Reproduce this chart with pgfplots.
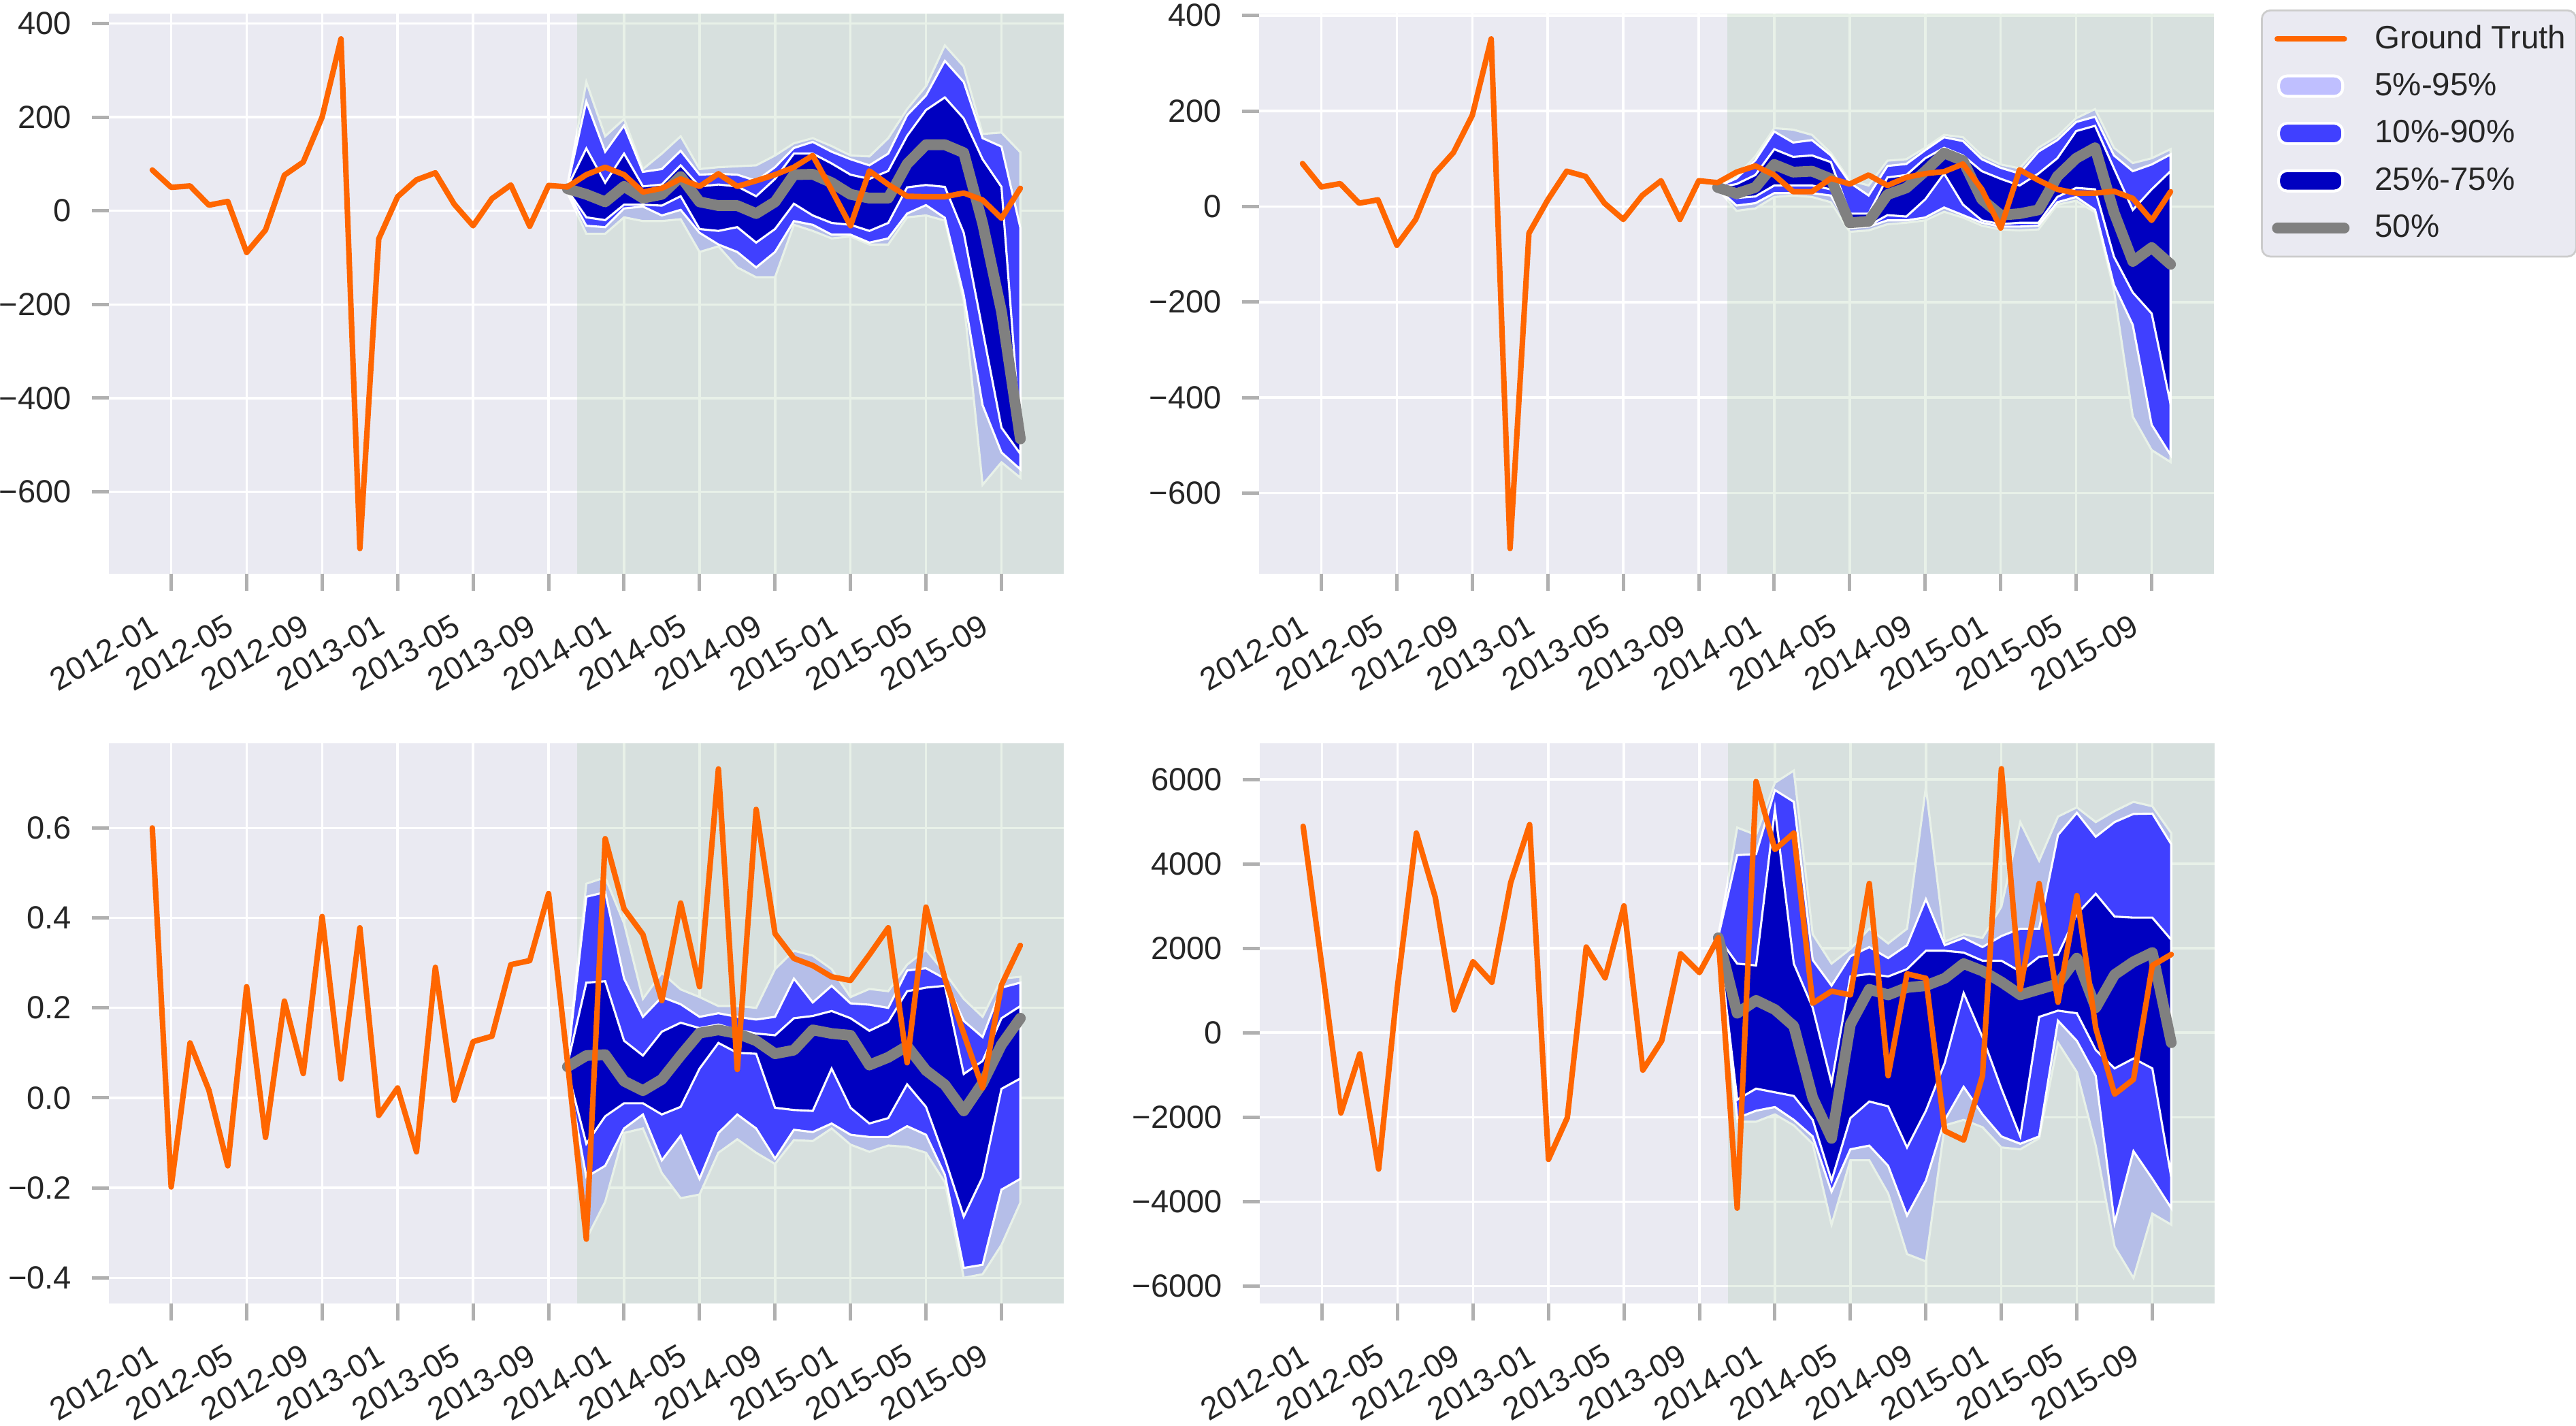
\documentclass[border=0pt]{standalone}
\usepackage{fontspec}
\setmainfont{Liberation Sans}
\usepackage{pgfplots}
\pgfplotsset{compat=1.18}
\usepackage{pgfplotstable}
\usepgfplotslibrary{fillbetween}
\tikzset{fill between/on layer=main}

\definecolor{bgc}{RGB}{234,234,242}
\definecolor{spanc}{RGB}{143,188,143}
\definecolor{q5c}{RGB}{191,191,255}
\definecolor{q10c}{RGB}{64,64,255}
\definecolor{q25c}{RGB}{0,0,192}
\definecolor{gtc}{RGB}{255,102,0}
\definecolor{medc}{RGB}{128,128,128}
\definecolor{tickc}{RGB}{176,176,176}
\definecolor{textc}{RGB}{38,38,38}
\definecolor{legedge}{RGB}{204,204,204}

\newlength{\px}\setlength{\px}{0.24pt}
\newcommand{\tfont}{\fontsize{11.3}{13.5}\selectfont}

% ---------------- data ----------------
\pgfplotstableread{
x p5 p10 p25 p50 p75 p90 p95
22 38 42 44 47 51 53 55
23 -49 -32 -14 35 133 233 275
24 -49 -35 -20 19 60 126 159
25 -14 5 13 52 122 182 196
26 -22 9 13 27 52 83 89
27 -22 -10 11 35 56 89 122
28 -18 2 31 73 97 128 159
29 -88 -47 -39 19 52 77 89
30 -76 -72 -43 11 56 79 93
31 -121 -88 -35 11 52 77 95
32 -142 -121 -68 -6 31 64 97
33 -142 -88 -39 19 68 93 118
34 -30 -22 15 77 122 134 144
35 -43 -30 -10 78 122 147 155
36 -59 -51 -26 60 101 126 138
37 -55 -51 -30 35 77 110 118
38 -72 -68 -43 27 68 97 116
39 -72 -59 -26 27 85 122 155
40 -14 -6 50 100 160 204 217
41 -10 12 55 141 215 246 266
42 -21 -15 51 141 242 320 353
43 -192 -180 -47 124 197 275 308
44 -585 -415 -255 -27 110 155 164
45 -537 -516 -463 -215 51 137 167
46 -570 -552 -519 -487 -478 -36 125
}\qA
\pgfplotstableread{
x y
0 87
1 50
2 53
3 12
4 20
5 -89
6 -41
7 76
8 104
9 200
10 367
11 -721
12 -60
13 30
14 66
15 81
16 14
17 -32
18 26
19 55
20 -33
21 54
22 51
23 77
24 93
25 77
26 40
27 48
28 68
29 52
30 79
31 52
32 64
33 77
34 93
35 118
36 44
37 -32
38 85
39 56
40 31
41 30
42 30
43 38
44 23
45 -16
46 48
}\gA

\pgfplotstableread{
x p5 p10 p25 p50 p75 p90 p95
22 37 38 39 40 40 41 42
23 -9 2 18 27 47 59 63
24 -4 7 21 40 66 97 105
25 20 28 44 88 120 157 164
26 23 28 44 72 104 134 161
27 20 28 44 74 107 139 150
28 9 23 36 58 93 107 112
29 -53 -45 -42 -34 -15 50 55
30 -50 -42 -40 -31 -15 23 44
31 -37 -29 -18 25 61 85 96
32 -34 -29 -21 39 66 89 99
33 -29 -23 15 74 101 118 123
34 -11 -2 69 112 123 145 150
35 -23 -18 4 96 107 137 145
36 -40 -34 -29 15 74 99 107
37 -48 -42 -37 -18 58 81 88
38 -50 -42 -34 -15 44 69 80
39 -48 -40 -34 -7 69 115 123
40 4 9 20 63 101 139 147
41 12 20 39 101 158 177 185
42 -12 -7 36 123 169 188 204
43 -175 -164 -105 -12 80 107 123
44 -440 -248 -180 -115 -7 74 91
45 -510 -457 -224 -86 36 88 101
46 -535 -520 -413 -121 74 109 120
}\qB
\pgfplotstableread{
x y
0 90
1 41
2 48
3 7
4 14
5 -81
6 -27
7 69
8 113
9 191
10 351
11 -716
12 -56
13 14
14 74
15 63
16 7
17 -27
18 23
19 54
20 -27
21 54
22 50
23 72
24 85
25 66
26 31
27 31
28 59
29 47
30 66
31 44
32 61
33 69
34 73
35 89
36 36
37 -45
38 77
39 55
40 36
41 28
42 28
43 32
44 17
45 -29
46 31
}\gB

\pgfplotstableread{
x p5 p10 p25 p50 p75 p90 p95
22 0.05 0.055 0.06 0.069 0.075 0.08 0.085
23 -0.314 -0.176 -0.102 0.094 0.256 0.447 0.476
24 -0.231 -0.151 -0.041 0.096 0.259 0.457 0.49
25 -0.078 -0.068 -0.012 0.037 0.127 0.265 0.388
26 -0.068 -0.037 -0.012 0.016 0.094 0.18 0.22
27 -0.167 -0.139 -0.037 0.041 0.147 0.224 0.278
28 -0.223 -0.084 -0.02 0.094 0.167 0.208 0.241
29 -0.215 -0.18 0.065 0.144 0.155 0.18 0.224
30 -0.122 -0.078 0.122 0.151 0.163 0.188 0.204
31 -0.092 -0.037 0.10 0.143 0.151 0.18 0.204
32 -0.122 -0.068 0.098 0.127 0.143 0.174 0.2
33 -0.147 -0.135 -0.022 0.098 0.139 0.18 0.286
34 -0.094 -0.071 -0.027 0.106 0.177 0.265 0.327
35 -0.096 -0.076 -0.029 0.151 0.182 0.212 0.316
36 -0.068 -0.057 0.065 0.143 0.193 0.249 0.286
37 -0.104 -0.082 -0.022 0.139 0.177 0.21 0.224
38 -0.12 -0.087 -0.057 0.073 0.149 0.207 0.242
39 -0.106 -0.087 -0.045 0.09 0.169 0.2 0.237
40 -0.109 -0.063 0.03 0.115 0.237 0.283 0.296
41 -0.122 -0.082 -0.02 0.061 0.245 0.288 0.329
42 -0.188 -0.171 -0.135 0.029 0.249 0.265 0.278
43 -0.4 -0.378 -0.264 -0.029 0.053 0.171 0.22
44 -0.392 -0.371 -0.176 0.033 0.082 0.135 0.18
45 -0.327 -0.204 0.02 0.118 0.177 0.245 0.265
46 -0.233 -0.18 0.043 0.177 0.204 0.256 0.269
}\qC
\pgfplotstableread{
x y
0 0.60
1 -0.198
2 0.122
3 0.017
4 -0.151
5 0.247
6 -0.088
7 0.215
8 0.054
9 0.403
10 0.042
11 0.378
12 -0.039
13 0.022
14 -0.12
15 0.29
16 -0.005
17 0.125
18 0.137
19 0.296
20 0.305
21 0.454
22 0.08
23 -0.314
24 0.576
25 0.42
26 0.363
27 0.216
28 0.433
29 0.247
30 0.731
31 0.063
32 0.641
33 0.365
34 0.31
35 0.294
36 0.269
37 0.261
38 0.318
39 0.378
40 0.078
41 0.424
42 0.265
43 0.143
44 0.022
45 0.251
46 0.339
}\gC

\pgfplotstableread{
x p5 p10 p25 p50 p75 p90 p95
22 2200 2220 2240 2250 2260 2280 2300
23 -2108 -2021 -1585 462 1637 4207 4860
24 -2108 -1847 -1324 767 1594 4233 4686
25 -1934 -1760 -1411 549 5296 5749 5923
26 -2195 -2064 -1498 157 1637 5470 6210
27 -2630 -2456 -2064 -1541 592 1725 2334
28 -4547 -3763 -3501 -2500 -1193 1115 1637
29 -3022 -2761 -2021 200 1333 1812 1986
30 -3022 -2674 -1629 1028 1394 2029 2465
31 -3806 -3153 -1742 897 1333 1768 2116
32 -5243 -4329 -2718 1071 1507 2073 2465
33 -5418 -3501 -1847 1115 1942 3162 5818
34 -2195 -2064 -714 1289 1942 2073 2160
35 -2064 -1280 941 1637 1899 2247 2334
36 -2238 -1934 -105 1463 1707 2029 2247
37 -2717 -2456 -1324 1202 1707 2290 2988
38 -2761 -2630 -2456 897 1450 2465 4990
39 -2500 -2456 375 1028 1800 2465 4076
40 -235 287 523 1158 1850 4686 5121
41 -932 -192 462 1768 2813 5209 5339
42 -2674 -1019 -409 592 3292 4642 4990
43 -5069 -4503 -845 1376 2752 4990 5252
44 -5810 -2805 -610 1681 2726 5183 5470
45 -4285 -3458 -845 1899 2726 5191 5365
46 -4547 -4155 -3414 -235 2203 4468 4729
}\qD
\pgfplotstableread{
x y
0 4890
1 1550
2 -1900
3 -500
4 -3230
5 1100
6 4730
7 3210
8 540
9 1685
10 1195
11 3560
12 4930
13 -3000
14 -2010
15 2030
16 1300
17 3005
18 -885
19 -190
20 1870
21 1425
22 2250
23 -4155
24 5950
25 4340
26 4730
27 697
28 984
29 897
30 3536
31 -1019
32 1394
33 1289
34 -2326
35 -2543
36 -1019
37 6254
38 1028
39 3536
40 723
41 3249
42 113
43 -1455
44 -1106
45 1594
46 1855
}\gD

% ---------------- styles ----------------
\pgfplotsset{
  panel/.style={
    width=1403\px, height=823\px, scale only axis,
    anchor=south west,
    xmin=-2.3, xmax=48.3,
    axis background/.style={fill=bgc},
    axis line style={draw=none},
    grid=major,
    major grid style={draw=white, line width=0.85pt},
    tick align=outside, tick pos=left,
    major tick length=25\px,
    tick style={draw=tickc, line width=1.2pt},
    xtick={1,5,9,13,17,21,25,29,33,37,41,45},
    xticklabels={2012-01,2012-05,2012-09,2013-01,2013-05,2013-09,2014-01,2014-05,2014-09,2015-01,2015-05,2015-09},
    xticklabel style={font=\tfont, text=textc, inner sep=0pt, xshift=-7.7pt, yshift=-7.7pt, rotate=30, anchor=north east},
    yticklabel style={font=\tfont, text=textc, inner sep=0pt, xshift=-7pt, anchor=east},
  },
}

\newcommand{\panel}[4]{%
  \addplot[forget plot, draw=none, name path=u95] table[x=x,y=p95]{#1};
  \addplot[forget plot, draw=none, name path=l5] table[x=x,y=p5]{#1};
  \addplot[forget plot, fill=q5c, draw=white, line width=0.75pt] fill between[of=u95 and l5];
  \addplot[forget plot, fill=spanc, fill opacity=0.2, draw=none] coordinates {(22.5,#3) (48.3,#3) (48.3,#4) (22.5,#4)};
  \addplot[forget plot, draw=none, name path=u90] table[x=x,y=p90]{#1};
  \addplot[forget plot, draw=none, name path=l10] table[x=x,y=p10]{#1};
  \addplot[forget plot, fill=q10c, draw=white, line width=0.75pt] fill between[of=u90 and l10];
  \addplot[forget plot, draw=none, name path=u75] table[x=x,y=p75]{#1};
  \addplot[forget plot, draw=none, name path=l25] table[x=x,y=p25]{#1};
  \addplot[forget plot, fill=q25c, draw=white, line width=0.75pt] fill between[of=u75 and l25];
  \addplot[forget plot, medc, line width=3.8pt, line cap=round, line join=round] table[x=x,y=p50]{#1};
  \addplot[forget plot, gtc, line width=1.95pt, line cap=round, line join=round] table[x=x,y=y]{#2};
}

\begin{document}
\begin{tikzpicture}
% top-left
\begin{axis}[panel, at={(160\px,1252\px)},
  ymin=-775, ymax=421,
  ytick={-600,-400,-200,0,200,400},
  yticklabels={−600,−400,−200,0,200,400}]
  \panel{\qA}{\gA}{-775}{421}
\end{axis}
% top-right
\begin{axis}[panel, at={(1850\px,1252\px)},
  ymin=-769, ymax=404,
  ytick={-600,-400,-200,0,200,400},
  yticklabels={−600,−400,−200,0,200,400},
  legend cell align=left,
  legend style={at={(1.0492,1.0073)}, anchor=north west,
    draw=legedge, fill=bgc, line width=0.65pt, rounded corners=3pt,
    font=\fontsize{11.4}{13.5}\selectfont, text=textc,
    inner xsep=3.6pt, inner ysep=5pt, row sep=6.7pt,
    nodes={inner sep=0pt, minimum height=10pt},
    /tikz/every odd column/.append style={column sep=8.9pt}}]
  \addlegendimage{legend image code/.code={\draw[gtc, line width=1.8pt, line cap=round] (0.85pt,0pt) -- (24.6pt,0pt);}}
  \addlegendentry{Ground Truth}
  \addlegendimage{legend image code/.code={\draw[fill=q5c, draw=white, line width=1pt] (1.4pt,-3.6pt) rectangle (24pt,3.6pt);}}
  \addlegendentry{5\%-95\%}
  \addlegendimage{legend image code/.code={\draw[fill=q10c, draw=white, line width=1pt] (1.4pt,-3.6pt) rectangle (24pt,3.6pt);}}
  \addlegendentry{10\%-90\%}
  \addlegendimage{legend image code/.code={\draw[fill=q25c, draw=white, line width=1pt] (1.4pt,-3.6pt) rectangle (24pt,3.6pt);}}
  \addlegendentry{25\%-75\%}
  \addlegendimage{legend image code/.code={\draw[medc, line width=3.8pt, line cap=round] (0.96pt,0pt) -- (24.5pt,0pt);}}
  \addlegendentry{50\%}
  \panel{\qB}{\gB}{-769}{404}
\end{axis}
% bottom-left
\begin{axis}[panel, at={(160\px,180\px)},
  ymin=-0.457, ymax=0.788,
  ytick={-0.4,-0.2,0,0.2,0.4,0.6},
  yticklabels={−0.4,−0.2,0.0,0.2,0.4,0.6}]
  \panel{\qC}{\gC}{-0.457}{0.788}
\end{axis}
% bottom-right
\begin{axis}[panel, at={(1851\px,180\px)},
  ymin=-6413, ymax=6857,
  ytick={-6000,-4000,-2000,0,2000,4000,6000},
  yticklabels={−6000,−4000,−2000,0,2000,4000,6000}]
  \panel{\qD}{\gD}{-6413}{6857}
\end{axis}
\pgfresetboundingbox
\path[use as bounding box] (0,0) rectangle (3785\px,2095\px);
\end{tikzpicture}
\end{document}
